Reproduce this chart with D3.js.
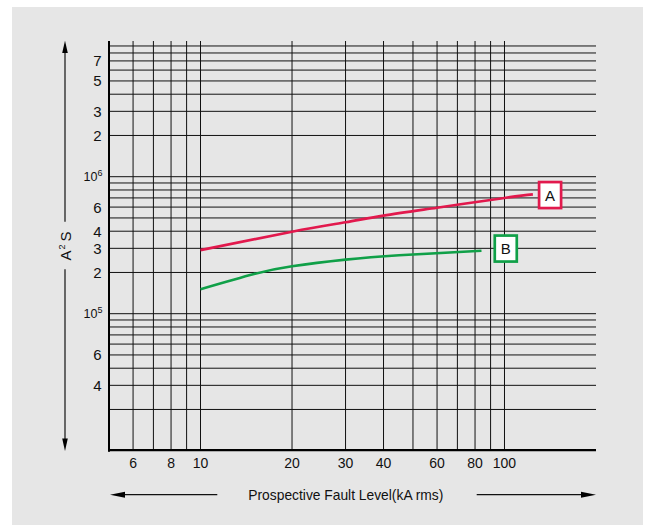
<!DOCTYPE html>
<html><head><meta charset="utf-8">
<script src="https://cdn.jsdelivr.net/npm/d3@7"></script>
<style>
html,body{margin:0;padding:0;background:#fff;}
svg{display:block;}
text{font-family:"Liberation Sans",Arial,sans-serif;fill:#111;}
</style></head>
<body>
<svg id="c" width="649" height="532"></svg>
<script>
// ---- data ----
const xGridVals = [6,7,8,9,10,20,30,40,50,60,70,80,90,100];
const xTickVals = [6,8,10,20,30,40,60,80,100];
const xTickText = ["6","8","10","20","30","40","60","80","100"];
const yDecades = [1e4,1e5,1e6];
const yMultipliers = [1,2,3,4,5,6,7,8,9];
const yTickVals = [7e6,5e6,3e6,2e6,1e6,6e5,4e5,3e5,2e5,1e5,5e4,3e4];
const yTickText = ["7","5","3","2","10|6","6","4","3","2","10|5","6","4"];
const seriesA_x = [10,20,30,40,60,100,124];
const seriesA_y = [2.91e5,3.97e5,4.65e5,5.2e5,5.94e5,7.0e5,7.43e5];
const seriesB_x = [10,15,20,30,45,84];
const seriesB_y = [1.51e5,1.95e5,2.22e5,2.48e5,2.67e5,2.88e5];
const seriesNames = ["A","B"];
const xTitle = "Prospective Fault Level(kA rms)";
const yTitle = ["A","2","S"];

// ---- layout ----
const svg = d3.select("#c");
const L = 109, R = 596, T = 39.7, B = 450.7;
const x = d3.scaleLog().domain([5,200]).range([L,R]);
const y = d3.scaleLog().domain([1e4,1e7]).range([B,T]);
const red = "#e2194d", green = "#10a048";

svg.append("rect").attr("x",12).attr("y",7).attr("width",631).attr("height",518).attr("fill","#e6e6e6");

const g = svg.append("g");
// horizontal grid
const yGrid = [];
yDecades.forEach(d=>yMultipliers.forEach(m=>{const v=d*m; if(v>1e4 && v<1e7) yGrid.push(v);}));
g.selectAll("line.h").data(yGrid).join("line").attr("class","h")
  .attr("x1",L).attr("x2",R).attr("y1",d=>y(d)).attr("y2",d=>y(d))
  .attr("stroke","#111").attr("stroke-width",1);
// vertical grid
g.selectAll("line.v").data(xGridVals).join("line").attr("class","v")
  .attr("x1",d=>x(d)).attr("x2",d=>x(d)).attr("y1",T+1.3).attr("y2",B)
  .attr("stroke","#111").attr("stroke-width",1);
// axes frame
g.append("line").attr("x1",L).attr("x2",L).attr("y1",T+1.3).attr("y2",B+1).attr("stroke","#000").attr("stroke-width",2);
g.append("line").attr("x1",L-1).attr("x2",R).attr("y1",B-0.5).attr("y2",B-0.5).attr("stroke","#000").attr("stroke-width",2.2);

// x tick labels
g.selectAll("text.xt").data(xTickVals).join("text").attr("class","xt")
  .attr("x",d=>x(d)).attr("y",468).attr("text-anchor","middle")
  .attr("font-size",14).text((d,i)=>xTickText[i]);

// y tick labels
yTickVals.forEach((v,i)=>{
  const t = yTickText[i];
  const yy = y(v);
  if (t.includes("|")) {
    const [base,sup] = t.split("|");
    const tx = g.append("text").attr("x",102.5).attr("y",yy+4.5).attr("text-anchor","end").attr("font-size",12.5);
    tx.append("tspan").text(base);
    tx.append("tspan").attr("font-size",9).attr("dy",-5).text(sup);
  } else {
    g.append("text").attr("x",101.5).attr("y",yy+5.5).attr("text-anchor","end").attr("font-size",15).text(t);
  }
});

// curves
const line = d3.line().x(d=>x(d[0])).y(d=>y(d[1])).curve(d3.curveNatural);
const dataA = seriesA_x.map((v,i)=>[v,seriesA_y[i]]);
const dataB = seriesB_x.map((v,i)=>[v,seriesB_y[i]]);
g.append("path").attr("d",line(dataA)).attr("fill","none").attr("stroke",red).attr("stroke-width",2.6);
g.append("path").attr("d",line(dataB)).attr("fill","none").attr("stroke",green).attr("stroke-width",2.6);

// label boxes
function box(pt, dx, dy, col, name){
  const bx = x(pt[0]) + dx, by = y(pt[1]) + dy;
  g.append("rect").attr("x",bx).attr("y",by).attr("width",22).attr("height",26)
    .attr("fill","#fff").attr("stroke",col).attr("stroke-width",2.7);
  g.append("text").attr("x",bx+11).attr("y",by+18.5).attr("text-anchor","middle")
    .attr("font-size",15).attr("font-family","'Liberation Sans Narrow','Liberation Sans',sans-serif").text(name);
}
box(dataA[dataA.length-1], 6.2, -12.3, red, seriesNames[0]);
box(dataB[dataB.length-1], 13.3, -15.2, green, seriesNames[1]);

// x title + arrows
const ay = 494.7;
function arrow(x1,y1,x2,y2){
  g.append("line").attr("x1",x1).attr("y1",y1).attr("x2",x2).attr("y2",y2).attr("stroke","#111").attr("stroke-width",1.2);
}
arrow(122,ay,217.3,ay);
g.append("path").attr("d",`M110,${ay} L125,${ay-3} L125,${ay+3} Z`).attr("fill","#000");
arrow(476.7,ay,584,ay);
g.append("path").attr("d",`M596,${ay} L581,${ay-3} L581,${ay+3} Z`).attr("fill","#000");
g.append("text").attr("x",248.3).attr("y",500).attr("font-size",15)
  .attr("font-family","'Liberation Sans Narrow','Liberation Sans',sans-serif")
  .attr("textLength",195).attr("lengthAdjust","spacingAndGlyphs").text(xTitle);

// y title + arrows
const ax = 65;
arrow(ax,50,ax,221.7);
g.append("path").attr("d",`M${ax},40.7 L${ax-2.8},53 L${ax+2.8},53 Z`).attr("fill","#000");
arrow(ax,269.3,ax,440);
g.append("path").attr("d",`M${ax},451 L${ax-2.8},438.5 L${ax+2.8},438.5 Z`).attr("fill","#000");
const yt = g.append("text").attr("transform",`translate(${ax+5.5},260.5) rotate(-90)`).attr("font-size",15);
yt.append("tspan").text(yTitle[0]);
yt.append("tspan").attr("font-size",9).attr("dy",-6).attr("dx",1).text(yTitle[1]);
yt.append("tspan").attr("dy",6).attr("dx",3).text(yTitle[2]);
</script>
</body></html>
